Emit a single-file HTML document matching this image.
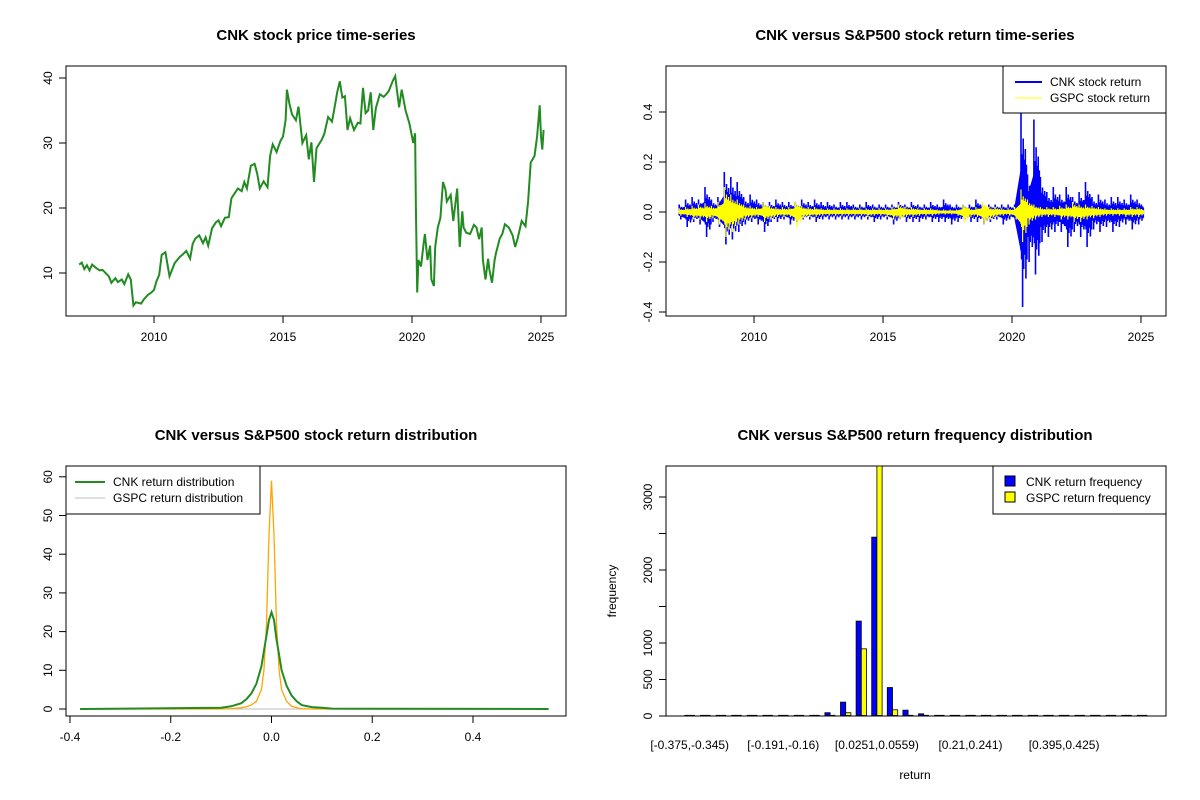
<!DOCTYPE html>
<html><head><meta charset="utf-8"><style>
body{margin:0;background:#fff;}
svg{display:block;font-family:"Liberation Sans",Arial,sans-serif;}
.t{font-weight:bold;font-size:15px;text-anchor:middle;}
.tk{font-size:12px;}
</style></head><body>
<svg id="c" width="1200" height="800" xmlns="http://www.w3.org/2000/svg"></svg>
<script>
// ---------- data ----------
const priceDates=[2007.1,2007.2,2007.3,2007.4,2007.5,2007.6,2007.75,2007.9,2008.0,2008.1,2008.25,2008.35,2008.5,2008.6,2008.75,2008.85,2009.0,2009.1,2009.2,2009.3,2009.5,2009.6,2009.75,2009.9,2010.0,2010.1,2010.2,2010.3,2010.44,2010.6,2010.8,2011.0,2011.1,2011.25,2011.4,2011.5,2011.6,2011.75,2011.9,2012.0,2012.1,2012.25,2012.4,2012.5,2012.6,2012.75,2012.9,2013.0,2013.1,2013.25,2013.4,2013.5,2013.6,2013.75,2013.9,2014.0,2014.1,2014.25,2014.4,2014.5,2014.6,2014.75,2014.9,2015.0,2015.1,2015.15,2015.25,2015.35,2015.5,2015.6,2015.75,2015.9,2016.0,2016.1,2016.2,2016.3,2016.5,2016.6,2016.75,2016.9,2017.0,2017.1,2017.2,2017.3,2017.4,2017.5,2017.6,2017.75,2017.9,2018.0,2018.1,2018.2,2018.3,2018.4,2018.5,2018.6,2018.75,2018.9,2019.0,2019.1,2019.25,2019.35,2019.5,2019.6,2019.75,2019.9,2020.05,2020.12,2020.15,2020.2,2020.25,2020.35,2020.45,2020.5,2020.6,2020.7,2020.75,2020.85,2020.9,2021.0,2021.1,2021.2,2021.3,2021.35,2021.5,2021.6,2021.75,2021.85,2021.95,2022.0,2022.1,2022.25,2022.4,2022.5,2022.6,2022.7,2022.75,2022.85,2022.95,2023.0,2023.1,2023.2,2023.25,2023.4,2023.5,2023.6,2023.75,2023.9,2024.0,2024.1,2024.25,2024.4,2024.5,2024.6,2024.75,2024.85,2024.95,2025.0,2025.05,2025.1];
const priceValues=[11.3,11.6,10.6,11.2,10.4,11.3,10.8,10.4,10.5,10.1,9.5,8.5,9.2,8.6,9.0,8.3,9.8,9.0,5.0,5.5,5.3,5.9,6.6,7.0,7.4,8.8,9.7,12.8,13.2,9.5,11.5,12.5,12.8,13.4,12.2,14.5,15.3,15.8,14.6,15.5,14.2,16.9,17.8,18.1,17.2,18.5,18.6,21.5,22.1,23.0,22.6,24.0,23.0,26.5,26.8,25.3,23.0,24.1,23.2,28.0,29.8,28.6,30.3,31.0,33.5,38.2,36.0,34.4,33.5,35.6,30.0,31.2,27.5,30.1,24.0,29.2,30.5,31.4,34.0,33.3,35.5,37.8,39.5,37.0,37.2,32.0,33.8,32.0,33.1,33.0,38.5,34.6,35.0,37.8,32.0,35.4,37.5,37.1,37.5,38.0,39.5,40.3,35.5,38.2,35.0,33.0,30.0,31.5,20.0,7.0,12.0,11.0,14.5,16.0,12.0,14.2,9.0,8.0,14.0,17.0,18.5,24.0,22.8,21.0,22.0,18.0,23.0,14.0,19.5,17.0,16.2,16.0,17.4,17.0,15.2,17.0,12.0,9.0,12.2,10.5,8.5,12.0,13.0,15.3,16.0,17.5,17.0,15.8,14.0,15.4,18.0,17.2,21.0,27.0,28.0,31.0,35.8,31.0,29.0,32.0];

const retQuarters=73; // 2007.0 .. 2025.0 step 0.25
const cnkHi=[0.03,0.05,0.06,0.05, 0.10,0.05,0.06,0.16, 0.14,0.12,0.06,0.07, 0.05,0.04,0.04,0.05, 0.04,0.04,0.04,0.05, 0.04,0.05,0.04,0.04, 0.03,0.04,0.04,0.03, 0.03,0.04,0.03,0.03, 0.03,0.03,0.04,0.03, 0.04,0.03,0.03,0.04, 0.03,0.05,0.03,0.03, 0.03,0.03,0.05,0.03, 0.03,0.03,0.03,0.03, 0.03,0.42,0.15,0.37, 0.14,0.08,0.10,0.07, 0.10,0.06,0.08,0.12, 0.06,0.07,0.05,0.06, 0.06,0.05,0.07,0.05, 0.04];
const cnkLo=[-0.03,-0.06,-0.04,-0.05, -0.10,-0.04,-0.06,-0.13, -0.11,-0.08,-0.05,-0.04, -0.05,-0.08,-0.04,-0.04, -0.03,-0.05,-0.04,-0.03, -0.03,-0.04,-0.03,-0.03, -0.03,-0.03,-0.03,-0.03, -0.03,-0.03,-0.04,-0.03, -0.03,-0.05,-0.03,-0.04, -0.04,-0.04,-0.03,-0.04, -0.04,-0.04,-0.05,-0.04, -0.03,-0.04,-0.04,-0.05, -0.04,-0.03,-0.05,-0.03, -0.05,-0.38,-0.20,-0.25, -0.12,-0.10,-0.08,-0.08, -0.14,-0.08,-0.10,-0.14, -0.07,-0.08,-0.06,-0.08, -0.06,-0.05,-0.07,-0.05, -0.05];
const spHi=[0.015,0.02,0.025,0.03, 0.035,0.025,0.04,0.10, 0.07,0.05,0.03,0.025, 0.02,0.04,0.025,0.02, 0.02,0.02,0.04,0.025, 0.02,0.02,0.015,0.015, 0.015,0.015,0.015,0.015, 0.015,0.015,0.015,0.015, 0.015,0.02,0.03,0.02, 0.02,0.015,0.015,0.015, 0.01,0.01,0.01,0.01, 0.03,0.015,0.02,0.04, 0.02,0.02,0.015,0.015, 0.02,0.09,0.05,0.03, 0.02,0.02,0.02,0.025, 0.03,0.04,0.03,0.03, 0.025,0.02,0.015,0.015, 0.015,0.015,0.02,0.02, 0.015];
const spLo=[-0.015,-0.02,-0.03,-0.03, -0.04,-0.025,-0.05,-0.10, -0.08,-0.05,-0.03,-0.025, -0.02,-0.04,-0.03,-0.02, -0.02,-0.02,-0.06,-0.025, -0.02,-0.02,-0.015,-0.015, -0.015,-0.015,-0.015,-0.015, -0.015,-0.02,-0.015,-0.015, -0.02,-0.03,-0.03,-0.02, -0.02,-0.015,-0.015,-0.015, -0.01,-0.01,-0.01,-0.015, -0.04,-0.02,-0.02,-0.05, -0.03,-0.02,-0.015,-0.015, -0.03,-0.12,-0.05,-0.03, -0.02,-0.02,-0.02,-0.03, -0.03,-0.04,-0.04,-0.03, -0.025,-0.02,-0.015,-0.015, -0.015,-0.02,-0.02,-0.02, -0.015];

const densX=[-0.38,-0.1,-0.08,-0.06,-0.05,-0.04,-0.03,-0.02,-0.015,-0.01,-0.005,0,0.005,0.01,0.015,0.02,0.03,0.04,0.05,0.06,0.08,0.1,0.12,0.55];
const densCNK=[0,0.3,0.7,1.5,2.5,4,6.5,11,15,19,23,25,23,18,14,10,6,3.5,2,1,0.5,0.3,0.1,0];
const densGSPC=[0,0,0.1,0.3,0.6,1,2,5,10,22,45,59,45,22,10,5,2,0.7,0.3,0.1,0,0,0,0];

const binLabels=["[-0.375,-0.345)","[-0.191,-0.16)","[0.0251,0.0559)","[0.21,0.241)","[0.395,0.425)"];
const binLabelIdx=[0,6,12,18,24];
const freqCNK=[2,1,1,1,2,1,2,8,15,45,190,1300,2450,390,80,30,15,10,3,2,1,1,1,1,1,1,1,1,1,1];
const freqGSPC=[0,0,0,0,0,0,0,1,3,12,45,920,3700,85,12,3,1,0,0,0,0,0,0,0,0,0,0,0,0,0];
const freqTicks=[0,500,1000,1500,2000,2500,3000];
const freqTickLabels=["0","500","1000","","2000","","3000"];

// ---------- helpers ----------
const NS="http://www.w3.org/2000/svg";
const svg=document.getElementById('c');
function mk(tag,attrs,parent){const e=document.createElementNS(NS,tag);for(const k in attrs)e.setAttribute(k,attrs[k]);(parent||svg).appendChild(e);return e;}
function txt(s,x,y,cls,extra,parent){const e=mk('text',Object.assign({x:x,y:y,class:cls},extra||{}),parent);e.textContent=s;return e;}

function panelBox(x0,y0,name){
  const g=mk('g',{});
  
  
  mk('rect',{x:x0,y:y0,width:500,height:250,fill:'none',stroke:'#000','stroke-width':1},g);
  return g;
}
function yTick(g,xLeft,y,label){
  mk('line',{x1:xLeft-7,y1:y,x2:xLeft,y2:y,stroke:'#000'},g);
  if(label!=="") txt(label,xLeft-14,y,'tk',{transform:`rotate(-90 ${xLeft-14} ${y})`,'text-anchor':'middle'},g);
}
function xTick(g,x,yBot,label){
  mk('line',{x1:x,y1:yBot,x2:x,y2:yBot+7,stroke:'#000'},g);
  txt(label,x,yBot+25,'tk',{'text-anchor':'middle'},g);
}

// ---------- panel 1 ----------
const p1=panelBox(66,66,'price-panel');
const t1=txt('CNK stock price time-series',316,40,'t');

const X1=yr=>154+(yr-2010)*25.8;
const Y1=v=>273-(v-10)*6.5;
[10,20,30,40].forEach(v=>yTick(p1,66,Y1(v),String(v)));
mk('line',{x1:66,y1:Y1(10),x2:66,y2:Y1(40),stroke:'#000'},p1);
[2010,2015,2020,2025].forEach(v=>xTick(p1,X1(v),316,String(v)));
mk('line',{x1:X1(2010),y1:316,x2:X1(2025),y2:316,stroke:'#000'},p1);
const pl=mk('polyline',{points:priceDates.map((d,i)=>X1(d).toFixed(1)+','+Y1(priceValues[i]).toFixed(1)).join(' '),fill:'none',stroke:'#228B22','stroke-width':2,'stroke-linejoin':'miter'},p1);


// ---------- panel 2 ----------
const p2=panelBox(666,66,'return-panel');
const t2=txt('CNK versus S&P500 stock return time-series',915,40,'t');

const X2=yr=>754+(yr-2010)*25.8;
const Y2=v=>212-v*250;
[-0.4,-0.2,0,0.2,0.4].forEach(v=>yTick(p2,666,Y2(v),v.toFixed(1)));
mk('line',{x1:666,y1:Y2(-0.4),x2:666,y2:Y2(0.4),stroke:'#000'},p2);
[2010,2015,2020,2025].forEach(v=>xTick(p2,X2(v),316,String(v)));
mk('line',{x1:X2(2010),y1:316,x2:X2(2025),y2:316,stroke:'#000'},p2);
const hiMul=[1,0.35,0.55,0.3,0.7,0.4,0.5,0.3,0.6,0.35,0.45,0.3];
const loMul=[0.4,0.5,0.3,1,0.35,0.6,0.3,0.45,0.4,0.7,0.3,0.5];
function series(hi,lo,color,name,w,core){
  let d='';
  const n=hiMul.length;
  for(let i=0;i<retQuarters-1;i++){
    const a=2007.1+i*0.25;
    for(let s=0;s<n;s++){
      const yr=a+s*0.25/n;
      if(yr>2025.1)break;
      d+=`M${X2(yr).toFixed(1)},${Y2(hi[i]*hiMul[s]).toFixed(1)}V${Y2(lo[i]*loMul[s]).toFixed(1)}`;
    }
  }
  const p=mk('path',{d:d,stroke:color,'stroke-width':w,fill:'none'},p2);
  
  let up=[],dn=[];
  for(let i=0;i<retQuarters;i++){const yr=Math.min(2007.1+i*0.25,2025.1);up.push(X2(yr).toFixed(1)+','+Y2(hi[i]*core).toFixed(1));dn.unshift(X2(yr).toFixed(1)+','+Y2(lo[i]*core).toFixed(1));}
  mk('polygon',{points:up.concat(dn).join(' '),fill:color,stroke:color,'stroke-width':1},p2);
}
series(cnkHi,cnkLo,'#0000FF','cnk-return-series',1.6,0.4);
series(spHi,spLo,'#FFFF00','gspc-return-series',1.2,0.35);
const lg2=mk('g',{});

mk('rect',{x:1003,y:66,width:163,height:47,fill:'#fff',stroke:'#000'},lg2);
mk('line',{x1:1015,y1:82,x2:1042,y2:82,stroke:'#0000FF','stroke-width':2},lg2);
txt('CNK stock return',1050,86,'tk',{},lg2);
mk('line',{x1:1015,y1:98,x2:1042,y2:98,stroke:'#FFFF00','stroke-width':1},lg2);
txt('GSPC stock return',1050,102,'tk',{},lg2);

// ---------- panel 3 ----------
const p3=panelBox(66,466,'distribution-panel');
const t3=txt('CNK versus S&P500 stock return distribution',316,440,'t');

const X3=v=>271.5+v*503.75;
const Y3=v=>709-v*3.87;
[0,10,20,30,40,50,60].forEach(v=>yTick(p3,66,Y3(v),String(v)));
mk('line',{x1:66,y1:Y3(0),x2:66,y2:Y3(60),stroke:'#000'},p3);
[-0.4,-0.2,0,0.2,0.4].forEach(v=>xTick(p3,X3(v),716,v===0?'0.0':v.toFixed(1)));
mk('line',{x1:X3(-0.4),y1:716,x2:X3(0.4),y2:716,stroke:'#000'},p3);
mk('line',{x1:X3(-0.38),y1:Y3(0),x2:X3(0.55),y2:Y3(0),stroke:'#BEBEBE'},p3);
const dg=mk('polyline',{points:densX.map((x,i)=>X3(x).toFixed(1)+','+Y3(densGSPC[i]).toFixed(1)).join(' '),fill:'none',stroke:'#FFA500','stroke-width':1.3},p3);

const dc=mk('polyline',{points:densX.map((x,i)=>X3(x).toFixed(1)+','+Y3(densCNK[i]).toFixed(1)).join(' '),fill:'none',stroke:'#228B22','stroke-width':2},p3);

const lg3=mk('g',{});

mk('rect',{x:66,y:466,width:194,height:48,fill:'#fff',stroke:'#000'},lg3);
mk('line',{x1:75,y1:482,x2:105,y2:482,stroke:'#228B22','stroke-width':2},lg3);
txt('CNK return distribution',113,486,'tk',{},lg3);
mk('line',{x1:75,y1:498,x2:105,y2:498,stroke:'#BEBEBE','stroke-width':1},lg3);
txt('GSPC return distribution',113,502,'tk',{},lg3);

// ---------- panel 4 ----------
const p4=panelBox(666,466,'frequency-panel');
const t4=txt('CNK versus S&P500 return frequency distribution',915,440,'t');

const Y4=v=>Math.max(466,716-v*0.073);
const GX=k=>684.5+k*15.6;
const BW=5.2;
freqTicks.forEach((v,i)=>yTick(p4,666,Y4(v),freqTickLabels[i]));
mk('line',{x1:666,y1:Y4(0),x2:666,y2:Y4(3000),stroke:'#000'},p4);
function bar(x,v,color,name){
  const top=Y4(v);
  const h=716-top;
  if(h<1.5){
    const l=mk('line',{x1:x,y1:715.5,x2:x+BW,y2:715.5,stroke:'#000','stroke-width':1.2},p4);
    
  }else{
    const r=mk('rect',{x:x,y:top,width:BW,height:h-0.5,fill:color,stroke:'#000','stroke-width':0.8},p4);
    
  }
}
freqCNK.forEach((v,k)=>bar(GX(k),v,'#0000FF','cnk-bar'));
freqGSPC.forEach((v,k)=>bar(GX(k)+BW,v,'#FFFF00','gspc-bar'));
binLabelIdx.forEach((k,i)=>txt(binLabels[i],GX(k)+BW,749,'tk',{'text-anchor':'middle'},p4));
txt('return',915,779,'tk',{'text-anchor':'middle'},p4);
txt('frequency',616,591,'tk',{'text-anchor':'middle',transform:'rotate(-90 616 591)'},p4);
const lg4=mk('g',{});

mk('rect',{x:993,y:466,width:173,height:48,fill:'#fff',stroke:'#000'},lg4);
mk('rect',{x:1005,y:476,width:10,height:10,fill:'#0000FF',stroke:'#000'},lg4);
txt('CNK return frequency',1026,486,'tk',{},lg4);
mk('rect',{x:1005,y:492,width:10,height:10,fill:'#FFFF00',stroke:'#000'},lg4);
txt('GSPC return frequency',1026,502,'tk',{},lg4);
</script>
</body></html>
